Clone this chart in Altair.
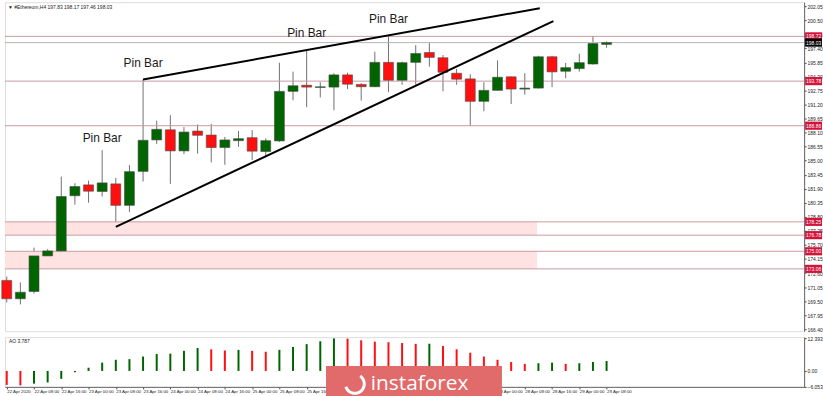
import altair as alt
import pandas as pd

# ---------------- data ----------------
idx = list(range(45))
opens = [171.79, 169.76, 170.56, 174.49, 175.04, 181.13, 182.33, 181.60, 182.44, 180.07,
         183.82, 187.29, 188.41, 186.08, 188.27, 187.83, 186.45, 187.21, 187.54, 186.01,
         187.18, 192.65, 193.33, 193.08, 193.12, 194.47, 193.41, 193.16, 195.85, 193.88,
         195.85, 196.94, 196.36, 194.65, 194.03, 191.55, 192.76, 194.25, 192.90, 193.01,
         196.47, 194.87, 195.16, 195.67, 197.83]
highs = [172.20, 171.57, 175.40, 175.23, 183.24, 182.51, 182.80, 186.16, 183.10, 184.52,
         193.96, 189.42, 190.02, 188.71, 189.00, 189.07, 187.62, 188.27, 188.38, 187.47,
         195.82, 194.83, 197.21, 193.66, 194.65, 194.72, 193.55, 197.02, 198.85, 195.93,
         197.75, 198.00, 196.66, 195.13, 194.54, 193.66, 196.07, 194.29, 194.65, 196.58,
         196.58, 195.78, 196.80, 198.77, 198.17]
lows = [169.35, 169.14, 170.34, 173.62, 174.79, 180.15, 180.37, 181.05, 177.70, 179.34,
        182.70, 186.85, 182.44, 185.72, 185.79, 184.81, 184.55, 186.52, 185.07, 185.46,
        187.07, 191.66, 190.90, 191.99, 190.57, 192.90, 191.63, 193.12, 192.57, 193.38,
        193.38, 195.38, 192.65, 193.38, 188.82, 190.46, 192.76, 191.26, 192.28, 192.97,
        193.12, 194.10, 194.83, 195.60, 197.46]
closes = [169.76, 170.48, 174.49, 175.04, 181.05, 182.15, 181.63, 182.55, 180.07, 183.79,
          187.25, 188.46, 186.08, 188.16, 187.80, 186.45, 187.29, 187.43, 186.05, 187.21,
          192.65, 193.27, 193.12, 193.16, 194.47, 193.44, 193.16, 195.85, 193.88, 195.82,
          196.83, 196.40, 194.76, 193.99, 191.55, 192.76, 194.21, 192.90, 193.01, 196.47,
          194.80, 195.27, 195.82, 197.93, 198.03]

ao_vals = [-5.30, -5.48, -4.83, -4.39, -3.01, -0.50, 1.23, 3.16, 4.25, 4.50,
           5.48, 6.43, 6.57, 7.66, 8.75, 8.24, 7.77, 8.02, 7.66, 7.30,
           8.02, 9.11, 10.20, 11.29, 12.393, 12.30, 11.66, 11.15, 10.93, 10.62,
           10.31, 10.35, 9.48, 8.24, 6.94, 5.48, 4.25, 3.41, 2.69, 2.94,
           3.16, 2.69, 2.94, 3.41, 3.787]
ao_dirs = ["down", "down", "up", "up", "up", "up", "up", "up", "up", "up",
           "up", "up", "up", "up", "up", "down", "down", "up", "down", "down",
           "up", "up", "up", "up", "up", "down", "down", "down", "down", "down",
           "down", "up", "down", "down", "down", "down", "down", "down", "down", "up",
           "up", "down", "up", "up", "up"]

x_tick_idx = list(range(0, 45, 2))
x_tick_labels = ["22 Apr 2020", "22 Apr 08:00", "22 Apr 16:00", "23 Apr 00:00", "23 Apr 08:00",
                 "23 Apr 16:00", "24 Apr 00:00", "24 Apr 08:00", "24 Apr 16:00", "25 Apr 00:00",
                 "25 Apr 08:00", "25 Apr 16:00", "26 Apr 00:00", "26 Apr 08:00", "26 Apr 16:00",
                 "27 Apr 00:00", "27 Apr 08:00", "27 Apr 16:00", "28 Apr 00:00", "28 Apr 08:00",
                 "28 Apr 16:00", "29 Apr 00:00", "29 Apr 08:00"]
price_ticks = [166.40, 167.95, 169.50, 171.05, 172.60, 174.15, 175.70, 177.25, 178.80, 180.35,
               181.90, 183.45, 185.00, 186.55, 188.10, 189.65, 191.20, 192.75, 194.30, 195.85,
               197.40, 198.95, 200.50, 202.05]
ao_ticks = [12.393, 0.0, -6.053]

level_prices = [198.72, 193.78, 188.86, 178.25, 176.78, 175.00, 173.06]
current_price = 198.03

zone_lo = [176.78, 173.06]
zone_hi = [178.25, 175.00]
zone_start = [-0.13, -0.13]
zone_end = [38.9, 38.9]

trend_id = ["upper", "upper", "lower", "lower"]
trend_i = [10, 39.1, 8, 40.1]
trend_p = [193.96, 201.83, 177.70, 200.41]

pin_i = [7, 10, 22, 28]
pin_p = [187.45, 195.82, 199.10, 200.63]
pin_text = ["Pin Bar", "Pin Bar", "Pin Bar", "Pin Bar"]

# ---------------- layout constants ----------------
W = 804
H_MAIN = 331
H_AO = 50
FONT = "Liberation Sans"

xscale = alt.Scale(domain=[-0.13, 58.49], nice=False, zero=False, padding=0)
yscale = alt.Scale(domain=[166.18, 202.49], nice=False, zero=False, padding=0)
aoscale = alt.Scale(domain=[-6.06, 12.85], nice=False, zero=False, padding=0)

df = pd.DataFrame({"i": idx, "open": opens, "high": highs, "low": lows, "close": closes})
df["dir"] = ["up" if c >= o else "down" for o, c in zip(opens, closes)]

x_enc = alt.X("i:Q", scale=xscale, axis=None)

price_axis = alt.Axis(orient="right", values=price_ticks, format=".2f", labelFontSize=5,
                      labelColor="#222", tickSize=2, tickColor="#444", domainColor="#666",
                      labelPadding=1, grid=False, title=None, labelFont=FONT,
                      labelOverlap=False, labelBound=False, labelFlush=False)


def Y(field):
    return alt.Y(field, scale=yscale, axis=price_axis)


base = alt.Chart(df)
wicks = base.mark_rule(color="#707070", strokeWidth=1).encode(
    x=x_enc,
    y=Y("low:Q"),
    y2="high:Q",
)
bodies = base.mark_bar(size=10, stroke="#4a4a4a", strokeWidth=0.6).encode(
    x=x_enc,
    y=Y("open:Q"),
    y2="close:Q",
    color=alt.Color("dir:N", scale=alt.Scale(domain=["up", "down"], range=["#006400", "#ff1010"]),
                    legend=None),
)

zones_df = pd.DataFrame({"x0": zone_start, "x1": zone_end, "lo": zone_lo, "hi": zone_hi})
zones = alt.Chart(zones_df).mark_rect(color="#ffe3e3", clip=True).encode(
    x=alt.X("x0:Q", scale=xscale, axis=None), x2="x1:Q",
    y=Y("lo:Q"), y2="hi:Q",
)

levels_df = pd.DataFrame({"p": level_prices})
levels = alt.Chart(levels_df).mark_rule(color="#c99aa2", strokeWidth=1).encode(y=Y("p:Q"))

cur_df = pd.DataFrame({"p": [current_price]})
cur_line = alt.Chart(cur_df).mark_rule(color="#b4b4b4", strokeWidth=1).encode(y=Y("p:Q"))

trend_df = pd.DataFrame({"id": trend_id, "i": trend_i, "p": trend_p})
trends = alt.Chart(trend_df).mark_line(color="black", strokeWidth=2).encode(
    x=alt.X("i:Q", scale=xscale, axis=None),
    y=Y("p:Q"),
    detail="id:N",
)

pin_df = pd.DataFrame({"i": pin_i, "p": pin_p, "t": pin_text})
pins = alt.Chart(pin_df).mark_text(fontSize=12, color="#1a1a1a", font=FONT).encode(
    x=alt.X("i:Q", scale=xscale, axis=None),
    y=Y("p:Q"),
    text="t:N",
)

lvl_box_df = pd.DataFrame({"p": level_prices})
lvl_box_df["lab"] = [f"{v:.2f}" for v in level_prices]
cur_box_df = pd.DataFrame({"p": [current_price], "lab": [f"{current_price:.2f}"]})


def price_box(data, fill):
    rect = alt.Chart(data).transform_calculate(
        lo="datum.p - 0.45", hi="datum.p + 0.45"
    ).mark_rect(color=fill).encode(
        x=alt.value(W + 1), x2=alt.value(W + 18),
        y=Y("lo:Q"), y2="hi:Q",
    )
    txt = alt.Chart(data).mark_text(align="left", baseline="middle", fontSize=5, color="white",
                                    font=FONT).encode(
        x=alt.value(W + 2), y=Y("p:Q"), text="lab:N")
    return rect + txt


lvl_boxes = price_box(lvl_box_df, "#d2143a")
cur_box = price_box(cur_box_df, "#000000")

title_df = pd.DataFrame({"t": ["\u25BC #Ethereum,H4 197.83 198.17 197.46 198.03"]})
title_txt = alt.Chart(title_df).mark_text(align="left", baseline="middle", fontSize=5,
                                          color="#222", font=FONT).encode(
    x=alt.value(3), y=alt.value(5), text="t:N")

main = alt.layer(wicks, zones, levels, cur_line, bodies, trends, pins, lvl_boxes, cur_box,
                 title_txt).properties(width=W, height=H_MAIN)

# ---------------- AO panel ----------------
ao_df = pd.DataFrame({"i": idx, "ao": ao_vals, "dir": ao_dirs})
label_arr = "[" + ",".join(f"'{s}'" for s in x_tick_labels) + "]"
x_axis_ao = alt.Axis(values=x_tick_idx, labelExpr=f"{label_arr}[round(datum.value/2)]",
                     labelAlign="left", labelFontSize=4.4, labelColor="#222", tickSize=2,
                     tickColor="#444", domainColor="#666", labelPadding=1, grid=False,
                     title=None, labelFont=FONT, labelOverlap=False, labelBound=False,
                     labelFlush=False)
ao_axis = alt.Axis(orient="right", values=ao_ticks,
                   labelExpr="datum.value == 0 ? '0.00' : format(datum.value, '.3f')",
                   labelFontSize=5, labelColor="#222", tickSize=2, tickColor="#444",
                   domainColor="#666", labelPadding=1, grid=False, title=None, labelFont=FONT,
                   labelOverlap=False, labelBound=False, labelFlush=False)

ao_bars = alt.Chart(ao_df).mark_bar(size=2).encode(
    x=alt.X("i:Q", scale=xscale, axis=x_axis_ao),
    y=alt.Y("ao:Q", scale=aoscale, axis=ao_axis),
    y2=alt.datum(0),
    color=alt.Color("dir:N", scale=alt.Scale(domain=["up", "down"], range=["#238b23", "#d42a2a"]),
                    legend=None),
)
ao_lab = alt.Chart(pd.DataFrame({"t": ["AO 3.787"]})).mark_text(
    align="left", baseline="middle", fontSize=5, color="#222", font=FONT).encode(
    x=alt.value(4), y=alt.value(4), text="t:N")

wm_rect = alt.Chart(pd.DataFrame({"a": [1]})).mark_rect(color="#e16a6b").encode(
    x=alt.value(323), x2=alt.value(500), y=alt.value(29), y2=alt.value(63))
wm_arc = alt.Chart(pd.DataFrame({"a": [1]})).mark_arc(
    radius=11, radius2=8, theta=0.6, theta2=4.4, color="white").encode(
    x=alt.value(352), y=alt.value(47))
wm_text = alt.Chart(pd.DataFrame({"t": ["instaforex"]})).mark_text(
    align="left", baseline="middle", fontSize=21, color="white", font="Open Sans").encode(
    x=alt.value(368), y=alt.value(47), text="t:N")

ao = alt.layer(ao_bars, ao_lab, wm_rect, wm_arc, wm_text).properties(width=W, height=H_AO)

chart = alt.vconcat(main, ao, spacing=2).properties(padding=0, background="white").configure_view(
    stroke="#8a8a8a", strokeWidth=1
).configure(font=FONT)

chart.save("out.html", embed_options={"renderer": "svg", "actions": False})
